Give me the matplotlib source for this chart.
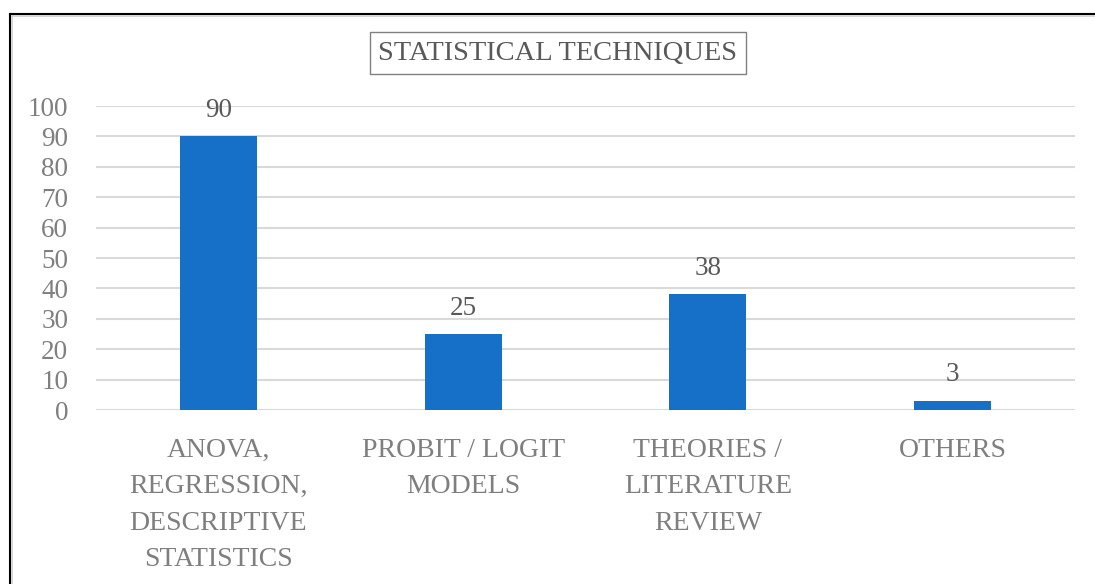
import matplotlib.pyplot as plt
from matplotlib.lines import Line2D

categories = ["ANOVA,\nREGRESSION,\nDESCRIPTIVE\nSTATISTICS",
              "PROBIT / LOGIT\nMODELS",
              "THEORIES /\nLITERATURE\nREVIEW",
              "OTHERS"]
counts = [90, 25, 38, 3]
y_ticks = list(range(0, 101, 10))
title = "STATISTICAL TECHNIQUES"

bar_color = "#1770C8"
grid_color = "#D9D9D9"
label_grey = "#7F7F7F"
value_grey = "#595959"

plt.rcParams['font.family'] = ['Liberation Serif', 'DejaVu Serif']

fig = plt.figure(figsize=(10.95, 5.84), dpi=100)
ax = fig.add_axes([96 / 1095, 1 - 410 / 584, (1075 - 96) / 1095, (410 - 106) / 584])

x = list(range(len(categories)))
bars = ax.bar(x, counts, width=0.315, color=bar_color, zorder=3)

# value labels above bars
for xi, v in zip(x, counts):
    ax.annotate(str(v), (xi, v), xytext=(0, 14), textcoords="offset points",
                ha="center", va="baseline", fontsize=19.5, color=value_grey)

ax.set_xlim(-0.5, len(categories) - 0.5)
ax.set_ylim(0, 100)
ax.set_yticks(y_ticks)
ax.set_yticklabels([str(t) for t in y_ticks], fontsize=19.5, color=label_grey)
ax.set_xticks(x)
ax.set_xticklabels(categories, fontsize=20, color=label_grey, linespacing=1.6)
ax.tick_params(axis="both", length=0)
ax.tick_params(axis="y", pad=20)
ax.tick_params(axis="x", pad=20)
ax.yaxis.grid(True, color=grid_color, linewidth=1.5, zorder=0)
ax.set_axisbelow(True)
for s in ax.spines.values():
    s.set_visible(False)

# title in a box
fig.text(558 / 1095, 1 - 53 / 584, title, ha="center", va="center",
         fontsize=20.5, color=value_grey,
         bbox=dict(boxstyle="square,pad=0.3", facecolor="white",
                   edgecolor="#808080", linewidth=1))

# outer chart frame (cut off at right and bottom)
fig.add_artist(Line2D([9.5 / 1095, 1.0], [1 - 13.5 / 584] * 2, color="black", linewidth=1.5))
fig.add_artist(Line2D([9.5 / 1095] * 2, [0.0, 1 - 13.5 / 584], color="black", linewidth=1.5))
fig.add_artist(Line2D([11.5 / 1095, 1.0], [1 - 15.5 / 584] * 2, color="#D0D0D0", linewidth=1.2))
fig.add_artist(Line2D([11.5 / 1095] * 2, [0.0, 1 - 15.5 / 584], color="#D0D0D0", linewidth=1.2))

fig.savefig("out.png", dpi=100)
